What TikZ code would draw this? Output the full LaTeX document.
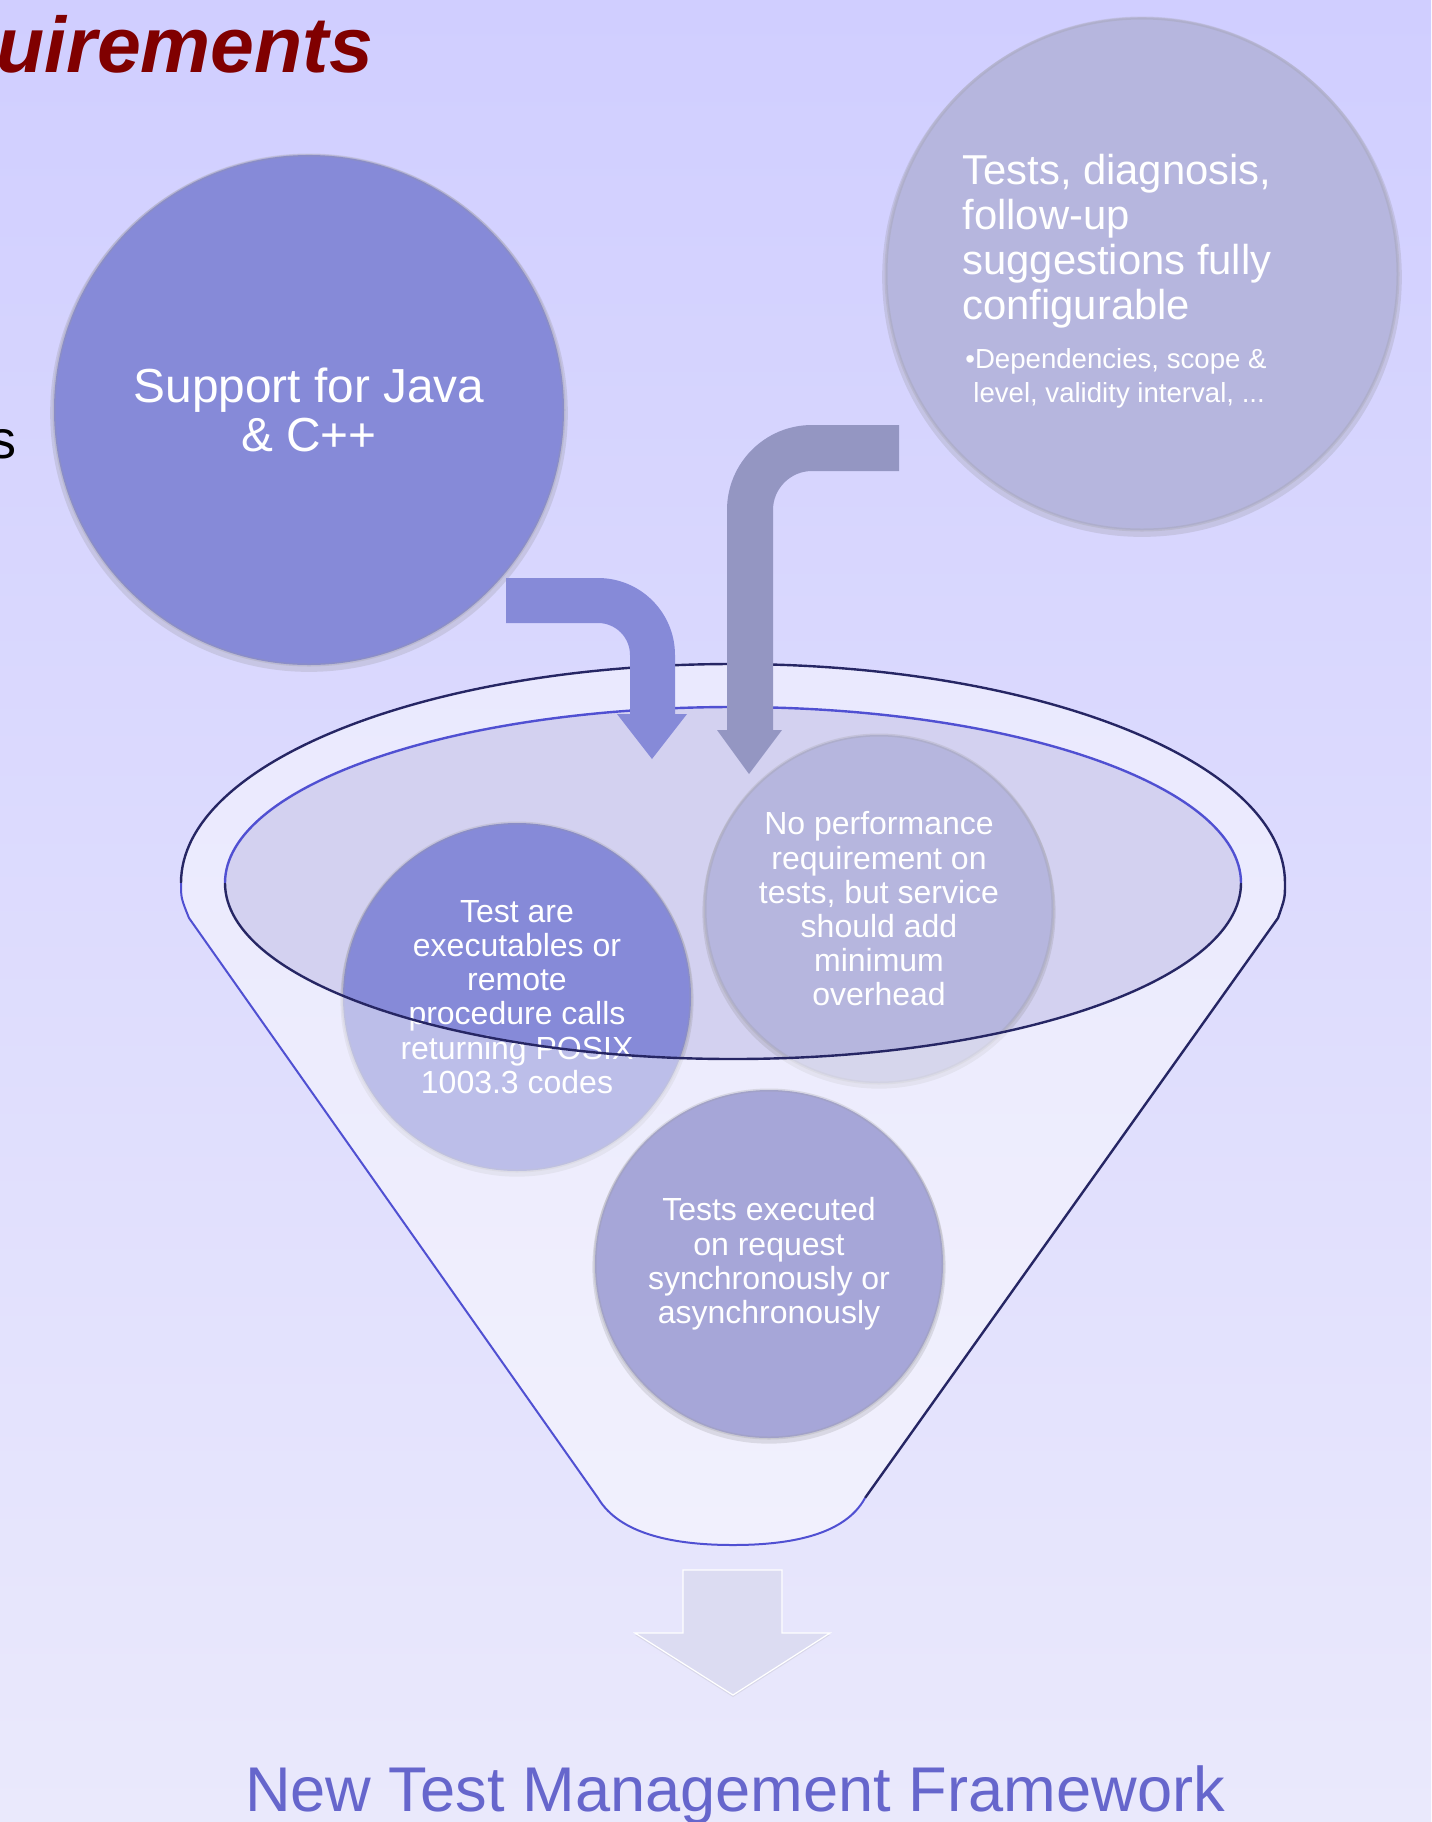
\documentclass[tikz,border=0pt]{standalone}
\usepackage{fontspec}
\setmainfont{Liberation Sans}
\usetikzlibrary{shadows}
\definecolor{bgtop}{RGB}{208, 206, 255}
\definecolor{bgbot}{RGB}{234, 233, 252}
\definecolor{peri}{RGB}{134, 138, 216}
\definecolor{lilacgrey}{RGB}{182, 182, 222}
\definecolor{lilac}{RGB}{166, 166, 216}
\definecolor{steel}{RGB}{148, 150, 194}
\definecolor{opening}{RGB}{211, 209, 240}
\definecolor{rimdark}{RGB}{38, 38, 100}
\definecolor{rimblue}{RGB}{80, 80, 210}
\definecolor{titlered}{RGB}{128, 0, 0}
\definecolor{label}{RGB}{102, 102, 204}
\definecolor{pale}{RGB}{220, 220, 242}

\begin{document}
\begin{tikzpicture}[x=0.5pt, y=-0.5pt,
  bubble/.style={circle, inner sep=0pt, text=white, align=center,
    draw=black!40, draw opacity=0.25, line width=1.5pt,
    drop shadow={opacity=0.2, shadow xshift=0pt, shadow yshift=-1.5pt, shadow scale=1.015}},
  intext/.style={font={\fontsize{16}{17.1}\selectfont}}]

  \useasboundingbox (0, 0) rectangle (1431, 1822);
  \shade[top color=bgtop, bottom color=bgbot] (0, 0) rectangle (1431, 1822);

  \node[anchor=base west, inner sep=0pt, text=titlered,
    font={\fontsize{39.4}{44}\selectfont\bfseries\itshape}] (title) at (-4, 72) {uirements};
  \node[anchor=base east, inner sep=0pt,
    font={\fontsize{27}{30}\selectfont}] (cut) at (17, 458) {s};

  % the two big bubbles
  \node[bubble, fill=peri, minimum size=255pt,
    font={\fontsize{23.9}{24.5}\selectfont}] (java) at (309, 410) {Support for Java\\\& C++};

  \node[bubble, fill=lilacgrey, minimum size=256pt] (config) at (1142, 274) {};
  \node[anchor=base west, inner sep=0pt, text=white, align=left,
    font={\fontsize{20.9}{22.5}\selectfont}] (configtext) at (962, 319)
    {Tests, diagnosis,\\follow-up\\suggestions fully\\configurable};
  \node[anchor=base west, inner sep=0pt, text=white, align=left,
    font={\fontsize{13.8}{17}\selectfont}] (configsub) at (965, 402)
    {\textbullet Dependencies, scope \&\\\hspace*{4pt}level, validity interval, ...};

  % funnel
  \fill[opening] (733, 883) ellipse [x radius=254pt, y radius=88pt];

  \node[bubble, fill=peri, minimum size=174pt, intext] (rpc) at (517, 997)
    {Test are\\executables or\\remote\\procedure calls\\returning POSIX\\1003.3 codes};
  \node[bubble, fill=lilacgrey, minimum size=174pt, intext] (perf) at (879, 909)
    {No performance\\requirement on\\tests, but service\\should add\\minimum\\overhead};

  \fill[white, opacity=0.45, even odd rule]
    (181, 883) arc [start angle=180, end angle=0, x radius=276pt, y radius=109.5pt]
    .. controls (1285, 898) .. (1278, 918) -- (865, 1498)
    .. controls (845, 1535) and (790, 1545) .. (733, 1545)
    .. controls (676, 1545) and (620, 1535) .. (598, 1498)
    -- (189, 918) .. controls (181, 898) .. (181, 883) -- cycle
    (733, 883) ellipse [x radius=254pt, y radius=88pt];

  \node[bubble, fill=lilac, minimum size=174pt, intext] (exec) at (769, 1264)
    {Tests executed\\on request\\synchronously or\\asynchronously};

  \draw[rimdark, line width=1.2pt]
    (181, 883) arc [start angle=180, end angle=0, x radius=276pt, y radius=109.5pt]
    .. controls (1285, 898) .. (1278, 918) -- (865, 1498);
  \draw[rimblue, line width=1pt]
    (865, 1498) .. controls (845, 1535) and (790, 1545) .. (733, 1545)
    .. controls (676, 1545) and (620, 1535) .. (598, 1498)
    -- (189, 918) .. controls (181, 898) .. (181, 883);
  \draw[rimblue, line width=1.2pt]
    (225, 883) arc [start angle=180, end angle=0, x radius=254pt, y radius=88pt];
  \draw[rimdark, line width=1.2pt]
    (225, 883) arc [start angle=180, end angle=360, x radius=254pt, y radius=88pt];

  % bent arrows into the funnel
  \fill[peri] (506, 578) -- (598, 578) .. controls (640.5, 578) and (675, 612.5) .. (675, 655)
    -- (675, 714) -- (687, 714) -- (652, 759) -- (617, 714) -- (630, 714) -- (630, 655)
    .. controls (630, 637.3) and (615.7, 623) .. (598, 623) -- (506, 623) -- cycle;

  \fill[steel] (899, 425) -- (812, 425) .. controls (765, 425) and (727, 463) .. (727, 510)
    -- (727, 730) -- (717, 730) -- (749, 774) -- (782, 730) -- (773, 730) -- (773, 510)
    .. controls (773, 488.5) and (790.5, 471) .. (812, 471) -- (899, 471) -- cycle;

  % output
  \fill[pale, draw=white, line width=0.6pt,
    drop shadow={opacity=0.15, shadow xshift=0pt, shadow yshift=-1pt}]
    (683, 1570) -- (782, 1570) -- (782, 1633) -- (830, 1633) -- (733, 1695)
    -- (635, 1633) -- (683, 1633) -- cycle;

  \node[anchor=base, inner sep=0pt, text=label,
    font={\fontsize{31.6}{36}\selectfont}] (framework) at (735, 1811) {New Test Management Framework};

\end{tikzpicture}
\end{document}
